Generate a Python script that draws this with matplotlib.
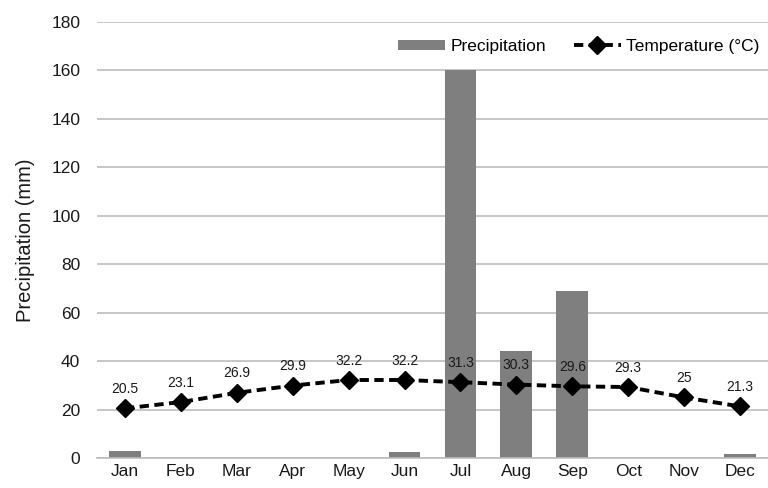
import matplotlib.pyplot as plt
import numpy as np

plt.rcParams['font.family'] = ['Liberation Sans', 'DejaVu Sans']

months = ['Jan', 'Feb', 'Mar', 'Apr', 'May', 'Jun', 'Jul', 'Aug', 'Sep', 'Oct', 'Nov', 'Dec']
precip = [3, 0, 0, 0, 0, 2.5, 160, 44, 69, 0, 0, 1.5]
temp = [20.5, 23.1, 26.9, 29.9, 32.2, 32.2, 31.3, 30.3, 29.6, 29.3, 25, 21.3]
temp_labels = ['20.5', '23.1', '26.9', '29.9', '32.2', '32.2', '31.3', '30.3', '29.6', '29.3', '25', '21.3']

fig = plt.figure(figsize=(7.68, 4.88), dpi=100)
ax = fig.add_axes([97 / 768, 30 / 488, 671 / 768, 436 / 488])

x = np.arange(len(months))
bars = ax.bar(x, precip, width=0.57, color='#7f7f7f', label='Precipitation', zorder=2)
line, = ax.plot(x, temp, color='black', linestyle=(0, (2.4, 1.4)), linewidth=2.8,
                marker='D', markersize=9, label='Temperature (°C)', zorder=3)
for xi, t, lab in zip(x, temp, temp_labels):
    ax.annotate(lab, (xi, t), xytext=(0, 9), textcoords='offset points',
                ha='center', va='bottom', fontsize=10, color='#1a1a1a')

ax.set_xlim(-0.5, 11.5)
ax.set_ylim(0, 180)
ax.set_yticks(range(0, 181, 20))
ax.set_xticks(x)
ax.set_xticklabels(months)
ax.tick_params(axis='both', length=0, labelsize=12.5, colors='#1a1a1a')
ax.tick_params(axis='y', pad=12)
ax.tick_params(axis='x', pad=4)
ax.yaxis.grid(True, color='#bdbdbd', linewidth=1.2, zorder=0)
ax.set_axisbelow(True)
for s in ['top', 'right', 'left']:
    ax.spines[s].set_visible(False)
ax.spines['bottom'].set_color('#bdbdbd')
ax.spines['bottom'].set_linewidth(1.2)
ax.set_ylabel('Precipitation (mm)', fontsize=14.5, color='#1a1a1a', labelpad=12)

ax.legend([bars, line], ['Precipitation', 'Temperature (°C)'],
          loc='upper right', bbox_to_anchor=(1.01, 0.997), ncol=2, frameon=False,
          fontsize=12.5, handlelength=2.7, handleheight=0.5, columnspacing=1.6,
          handletextpad=0.3)

fig.savefig('out.png', dpi=100)
